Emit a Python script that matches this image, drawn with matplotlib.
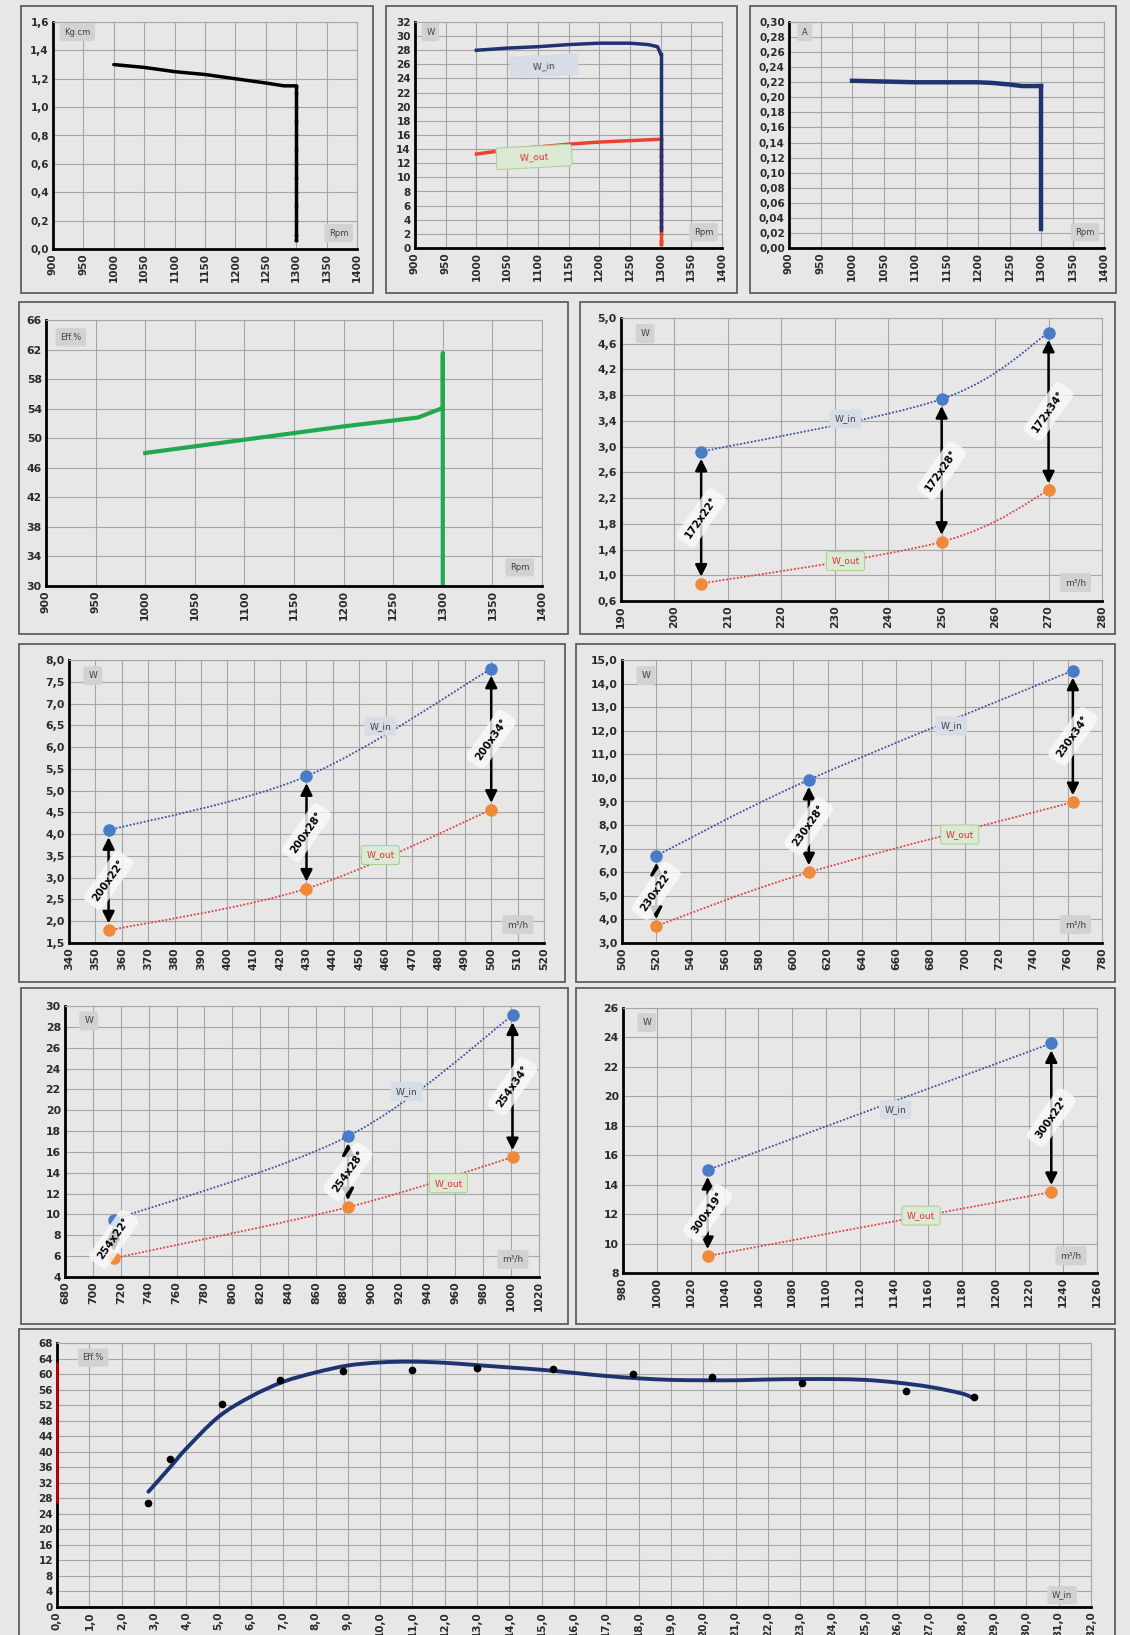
import numpy as np
import matplotlib
matplotlib.use("Agg")
import matplotlib.pyplot as plt
from matplotlib.path import Path
from matplotlib.patches import PathPatch, Rectangle
from matplotlib.transforms import IdentityTransform
from matplotlib.ticker import FuncFormatter, FixedLocator

plt.rcParams['font.family'] = ['DejaVu Sans']
plt.rcParams['font.weight'] = 'bold'

# ---- motor curves vs speed ----
torque_rpm = [1000, 1050, 1100, 1150, 1200, 1250, 1280, 1300]
torque_kgcm = [1.30, 1.28, 1.25, 1.23, 1.20, 1.17, 1.15, 1.15]
torque_drop = [1.10, 1.00, 0.90, 0.80, 0.70, 0.60, 0.50, 0.40, 0.30, 0.20, 0.10, 0.06]

power_rpm_in = [1000, 1050, 1100, 1150, 1200, 1250, 1280, 1295, 1300]
power_w_in = [28.0, 28.3, 28.5, 28.8, 29.0, 29.0, 28.8, 28.5, 27.5]
power_drop_in = [20.0, 10.0, 2.5]
power_rpm_out = [1000, 1050, 1100, 1150, 1200, 1250, 1300]
power_w_out = [13.3, 13.9, 14.3, 14.7, 15.0, 15.2, 15.4]
power_drop_out = [14.0, 13.0, 12.0, 11.0, 10.0, 9.0, 8.0, 7.0, 6.0, 5.0, 4.0, 3.0, 2.0, 1.0, 0.5]

current_rpm = [1000, 1050, 1100, 1150, 1200, 1225, 1250, 1270, 1300]
current_a = [0.222, 0.221, 0.220, 0.220, 0.220, 0.219, 0.217, 0.215, 0.215]
current_drop = [0.025]

eff_rpm = [1000, 1050, 1100, 1150, 1200, 1250, 1275, 1300]
eff_pct = [48.0, 48.9, 49.8, 50.7, 51.6, 52.4, 52.8, 54.1]
eff_drop = [61.5, 30.0]

# ---- fan tests: flow (m3/h) vs power ----
f172_flow = [205, 250, 270]
f172_win = [2.92, 3.74, 4.77]
f172_wout = [0.87, 1.52, 2.32]
f172_labels = ['172x22°', '172x28°', '172x34°']

f200_flow = [355, 430, 500]
f200_win = [4.09, 5.33, 7.80]
f200_wout = [1.79, 2.75, 4.56]
f200_labels = ['200x22°', '200x28°', '200x34°']

f230_flow = [520, 609, 763]
f230_win = [6.70, 9.92, 14.55]
f230_wout = [3.72, 6.00, 8.97]
f230_labels = ['230x22°', '230x28°', '230x34°']

f254_flow = [715, 883, 1001]
f254_win = [9.5, 17.5, 29.1]
f254_wout = [5.8, 10.7, 15.5]
f254_labels = ['254x22°', '254x28°', '254x34°']

f300_flow = [1030, 1233]
f300_win = [15.0, 23.6]
f300_wout = [9.15, 13.5]
f300_labels = ['300x19°', '300x22°']

# ---- efficiency vs input power ----
scatter_win = [2.83, 3.51, 5.10, 6.9, 8.85, 10.98, 12.99, 15.35, 17.82, 20.27, 23.06, 26.28, 28.37]
scatter_eff = [26.8, 38.1, 52.4, 58.5, 60.7, 61.0, 61.6, 61.2, 59.9, 59.3, 57.8, 55.7, 54.1]
trend_win = [2.83, 3.5, 4, 5, 6, 7, 8, 9, 10, 11, 12, 13, 14, 15, 16, 17, 18, 19, 20,
             21, 22, 23, 24, 25, 26, 27, 28, 28.4]
trend_eff = [29.7, 36.0, 40.8, 49.0, 54.2, 58.0, 60.4, 62.2, 63.0, 63.2, 62.9, 62.3, 61.7, 61.1,
             60.3, 59.5, 58.9, 58.5, 58.4, 58.4, 58.6, 58.7, 58.7, 58.5, 57.8, 56.7, 55.0, 53.6]

# ---- colours ----
BG = '#e7e7e7'
GRID = '#a6a6a6'
FRAME = '#5f5f5f'
TXT = '#2b2b2b'
NAVY = '#1f3370'
RED = '#e8452f'
GREEN = '#22a84f'
BLUE_DOT = '#4a7bc6'
ORANGE_DOT = '#ef8a3a'
BLUE_LINE = '#3f4fa0'
RED_LINE = '#e04040'

W, H = 1130, 1635
fig = plt.figure(figsize=(W / 100, H / 100), dpi=100, facecolor=BG)


def frame(box):
    x0, y0, x1, y1 = box
    fig.add_artist(Rectangle((x0 / W, 1 - y1 / H), (x1 - x0) / W, (y1 - y0) / H,
                             transform=fig.transFigure, fill=False, ec=FRAME, lw=1.3))


def axes_at(area):
    x0, y0, x1, y1 = area
    return fig.add_axes([x0 / W, 1 - y1 / H, (x1 - x0) / W, (y1 - y0) / H])


def comma(d):
    return FuncFormatter(lambda v, p: f"{v:.{d}f}".replace('.', ','))


def style(ax, xlim, xstep, ylim, ystep, xdec=0, ydec=0, size=7.5):
    ax.set_facecolor(BG)
    ax.set_xlim(*xlim)
    ax.set_ylim(*ylim)
    ax.xaxis.set_major_locator(FixedLocator(np.arange(xlim[0], xlim[1] + xstep / 2, xstep)))
    ax.yaxis.set_major_locator(FixedLocator(np.arange(ylim[0], ylim[1] + ystep / 2, ystep)))
    ax.xaxis.set_major_formatter(comma(xdec))
    ax.yaxis.set_major_formatter(comma(ydec))
    ax.grid(True, color=GRID, lw=0.8)
    ax.set_axisbelow(True)
    for s in ['top', 'right']:
        ax.spines[s].set_color(GRID)
        ax.spines[s].set_linewidth(0.8)
    for s in ['left', 'bottom']:
        ax.spines[s].set_color('black')
        ax.spines[s].set_linewidth(2)
    ax.tick_params(length=0, labelsize=size, colors=TXT, pad=3)
    ax.tick_params(axis='x', rotation=90)


def tag(ax, x, y, s, fc='#d2d2d2', ec='none', color='#404040', rot=0, size=6,
        axes_coords=False, pad=0.55):
    ax.text(x, y, s, transform=ax.transAxes if axes_coords else ax.transData,
            fontsize=size, color=color, ha='center', va='center', rotation=rot,
            fontweight='normal', zorder=6,
            bbox=dict(boxstyle=f'round,pad={pad},rounding_size=0.25', fc=fc, ec=ec, lw=0.7))


def corner_tags(ax, ytxt, xtxt, ypos=(0.08, 0.955), xpos=(0.94, 0.07), size=6):
    tag(ax, *ypos, ytxt, axes_coords=True, size=size)
    tag(ax, *xpos, xtxt, axes_coords=True, size=size)


def smooth_line(ax, xs, ys, color, lw=1.3, ls=(0, (1, 1)), zorder=2, cap='butt'):
    pts = ax.transData.transform(np.column_stack([xs, ys]))
    verts = [pts[0]]
    codes = [Path.MOVETO]
    n = len(pts)
    for i in range(n - 1):
        p0 = pts[i - 1] if i > 0 else pts[i]
        p1, p2 = pts[i], pts[i + 1]
        p3 = pts[i + 2] if i + 2 < n else pts[i + 1]
        verts += [p1 + (p2 - p0) / 6, p2 - (p3 - p1) / 6, p2]
        codes += [Path.CURVE4] * 3
    ax.add_patch(PathPatch(Path(verts, codes), transform=IdentityTransform(), fill=False,
                           ec=color, lw=lw, ls=ls, zorder=zorder, capstyle=cap))


def fan_panel(ax, flow, win, wout, labels, win_pos, wout_pos):
    smooth_line(ax, flow, win, BLUE_LINE)
    smooth_line(ax, flow, wout, RED_LINE)
    for x, a, b, s in zip(flow, win, wout, labels):
        ax.annotate('', xy=(x, a), xytext=(x, b), zorder=3,
                    arrowprops=dict(arrowstyle='<|-|>,head_length=0.7,head_width=0.35',
                                    color='black', lw=1.8, shrinkA=5, shrinkB=5,
                                    mutation_scale=10))
        ax.text(x, (a + b) / 2, s, rotation=55, ha='center', va='center', fontsize=7.5,
                color='black', zorder=5,
                bbox=dict(boxstyle='round,pad=0.6', fc='#fafafa', ec='none', alpha=0.8))
    ax.plot(flow, win, 'o', color=BLUE_DOT, ms=8, zorder=4)
    ax.plot(flow, wout, 'o', color=ORANGE_DOT, ms=8, zorder=4)
    tag(ax, *win_pos, 'W_in', fc='#d6dde7', size=6.5)
    tag(ax, *wout_pos, 'W_out', fc='#dce9d5', ec='#a9d18e', color='#e03030', size=6.5)
    corner_tags(ax, 'W', 'm³/h', ypos=(0.05, 0.945), xpos=(0.945, 0.065), size=6.5)


# ---- row 1: torque ----
frame((21, 6, 373, 293))
ax = axes_at((53, 22, 357, 249))
style(ax, (900, 1400), 50, (0, 1.6), 0.2, ydec=1)
ax.plot(torque_rpm, torque_kgcm, color='black', lw=2.5, solid_capstyle='round')
ax.plot([torque_rpm[-1]] * (len(torque_drop) + 1), [torque_kgcm[-1]] + torque_drop,
        color='black', lw=2.5, marker='.', ms=3.5)
corner_tags(ax, 'Kg.cm', 'Rpm')

# ---- row 1: power ----
frame((386, 6, 737, 293))
ax = axes_at((415, 22, 722, 248))
style(ax, (900, 1400), 50, (0, 32), 2)
ax.plot(power_rpm_out, power_w_out, color=RED, lw=2.5)
ax.plot([power_rpm_out[-1]] * (len(power_drop_out) + 1), [power_w_out[-1]] + power_drop_out,
        color=RED, lw=2.5, marker='.', ms=4)
ax.plot(power_rpm_in, power_w_in, color=NAVY, lw=2.5)
ax.plot([power_rpm_in[-1]] * (len(power_drop_in) + 1), [power_w_in[-1]] + power_drop_in,
        color=NAVY, lw=2.5)
tag(ax, 1110, 25.8, '      W_in      ', fc='#d6dde7', rot=3, size=6.5, pad=0.7)
tag(ax, 1094, 12.9, '      W_out      ', fc='#dce9d5', ec='#a9d18e', color='#e03030',
    rot=3, size=6.5, pad=0.7)
corner_tags(ax, 'W', 'Rpm', ypos=(0.05, 0.955))

# ---- row 1: current ----
frame((750, 6, 1116, 293))
ax = axes_at((789, 22, 1104, 248))
style(ax, (900, 1400), 50, (0, 0.30), 0.02, ydec=2)
ax.plot(current_rpm, current_a, color=NAVY, lw=3.2)
ax.plot([current_rpm[-1]] * (len(current_drop) + 1), [current_a[-1]] + current_drop,
        color=NAVY, lw=3.2)
corner_tags(ax, 'A', 'Rpm', ypos=(0.05, 0.955))

# ---- row 2: efficiency vs speed ----
frame((19, 302, 568, 634))
ax = axes_at((46, 320, 542, 586))
style(ax, (900, 1400), 50, (30, 66), 4, size=7.8)
ax.plot(eff_rpm + [eff_rpm[-1]] * len(eff_drop), eff_pct + eff_drop, color=GREEN, lw=3)
corner_tags(ax, 'Eff.%', 'Rpm', ypos=(0.05, 0.935), xpos=(0.955, 0.07))

# ---- row 2..4: fan tests ----
frame((580, 302, 1115, 634))
ax = axes_at((621, 318, 1102, 601))
style(ax, (190, 280), 10, (0.6, 5.0), 0.4, ydec=1, size=7.8)
fan_panel(ax, f172_flow, f172_win, f172_wout, f172_labels, (232, 3.43), (232, 1.22))

frame((19, 644, 565, 982))
ax = axes_at((69, 660, 544, 943))
style(ax, (340, 520), 10, (1.5, 8.0), 0.5, ydec=1, size=7.8)
fan_panel(ax, f200_flow, f200_win, f200_wout, f200_labels, (458, 6.48), (458, 3.52))

frame((576, 644, 1115, 982))
ax = axes_at((622, 660, 1102, 943))
style(ax, (500, 780), 20, (3, 15), 1, ydec=1, size=7.8)
fan_panel(ax, f230_flow, f230_win, f230_wout, f230_labels, (692, 12.2), (697, 7.6))

frame((21, 988, 568, 1324))
ax = axes_at((65, 1006, 539, 1277))
style(ax, (680, 1020), 20, (4, 30), 2, size=7.8)
fan_panel(ax, f254_flow, f254_win, f254_wout, f254_labels, (925, 21.8), (955, 13.0))

frame((576, 988, 1115, 1324))
ax = axes_at((623, 1008, 1097, 1273))
style(ax, (980, 1260), 20, (8, 26), 2, size=7.8)
fan_panel(ax, f300_flow, f300_win, f300_wout, f300_labels, (1141, 19.1), (1156, 11.9))

# ---- row 5: efficiency vs input power ----
frame((19, 1329, 1115, 1660))
ax = axes_at((57, 1343, 1091, 1607))
style(ax, (0, 32), 1, (0, 68), 4, xdec=1, size=7.5)
ax.vlines(0, min(scatter_eff), max(trend_eff), color='#c00000', lw=2, zorder=5, clip_on=False)
smooth_line(ax, trend_win, trend_eff, NAVY, lw=2.8, ls='-', zorder=3, cap='round')
ax.plot(scatter_win, scatter_eff, 'o', color='black', ms=4.5, zorder=4)
corner_tags(ax, 'Eff.%', 'W_in', ypos=(0.035, 0.945), xpos=(0.972, 0.045))

fig.savefig('out.png', dpi=100, facecolor=BG)
